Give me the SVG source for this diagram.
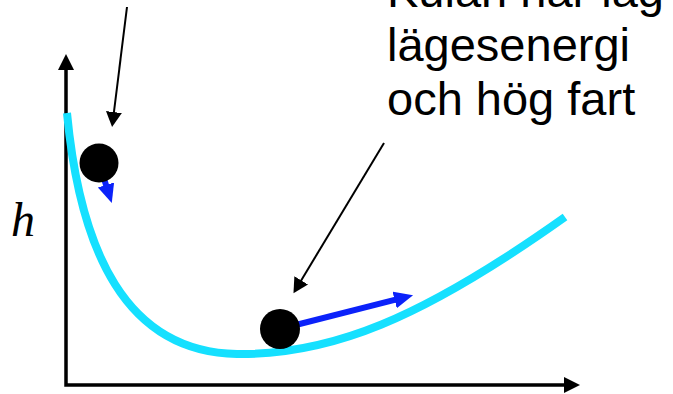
<svg xmlns="http://www.w3.org/2000/svg" width="673" height="394" viewBox="0 0 673 394">
  <style>
    .axis { stroke: #000; stroke-width: 3.5; fill: none; }
    .ptr { stroke: #000; stroke-width: 2; fill: none; }
    .vel { stroke: #0B22FA; stroke-width: 6; fill: none; }
    .track { stroke: #15E0FF; stroke-width: 8; fill: none; }
    .lbl { font-family: "Liberation Sans", Arial, sans-serif; font-size: 47px; fill: #000; }
    .sym { font-family: "Liberation Serif", "Times New Roman", serif; font-style: italic; font-size: 48px; fill: #000; }
  </style>
  <defs>
    <marker id="blackHead" markerUnits="userSpaceOnUse" markerWidth="16" markerHeight="16" refX="1" refY="8" orient="auto">
      <path d="M0,0 L15,8 L0,16 Z" fill="#000"/>
    </marker>
    <marker id="blueHead" markerUnits="userSpaceOnUse" markerWidth="20" markerHeight="18" refX="1" refY="8.5" orient="auto">
      <path d="M0,0 L19,8.5 L0,17 Z" fill="#0B22FA"/>
    </marker>
  </defs>
  <rect width="673" height="394" fill="#fff"/>

  <g id="axes">
    <path class="axis" d="M66,70 L66,385 L565,385"/>
    <path d="M66,54 L58,70 L74,70 Z" fill="#000"/>
    <path d="M580,385 L564,377 L564,393 Z" fill="#000"/>
  </g>

  <g id="h-label">
    <text class="sym" x="11" y="236">h</text>
  </g>

  <g id="track">
    <path class="track" d="M67,113 C80,250 125,352 237,354 C330,355 420,320 565,217"/>
  </g>

  <g id="connectors">
    <line class="ptr" x1="127" y1="7" x2="113.8" y2="113.1" marker-end="url(#blackHead)"/>
    <line class="ptr" x1="384" y1="143" x2="300.7" y2="281.2" marker-end="url(#blackHead)"/>
    <line class="vel" x1="99" y1="163" x2="106.3" y2="185.9" marker-end="url(#blueHead)"/>
    <line class="vel" x1="280" y1="329" x2="395.6" y2="299.7" marker-end="url(#blueHead)"/>
  </g>

  <g id="ball-top">
    <circle cx="99" cy="163" r="19.5" fill="#000"/>
  </g>

  <g id="ball-bottom">
    <circle cx="280" cy="329" r="20" fill="#000"/>
  </g>

  <g id="label-right">
    <text class="lbl" x="387" y="7">Kulan har låg</text>
    <text class="lbl" x="387" y="61">lägesenergi</text>
    <text class="lbl" x="387" y="115">och hög fart</text>
  </g>
</svg>
